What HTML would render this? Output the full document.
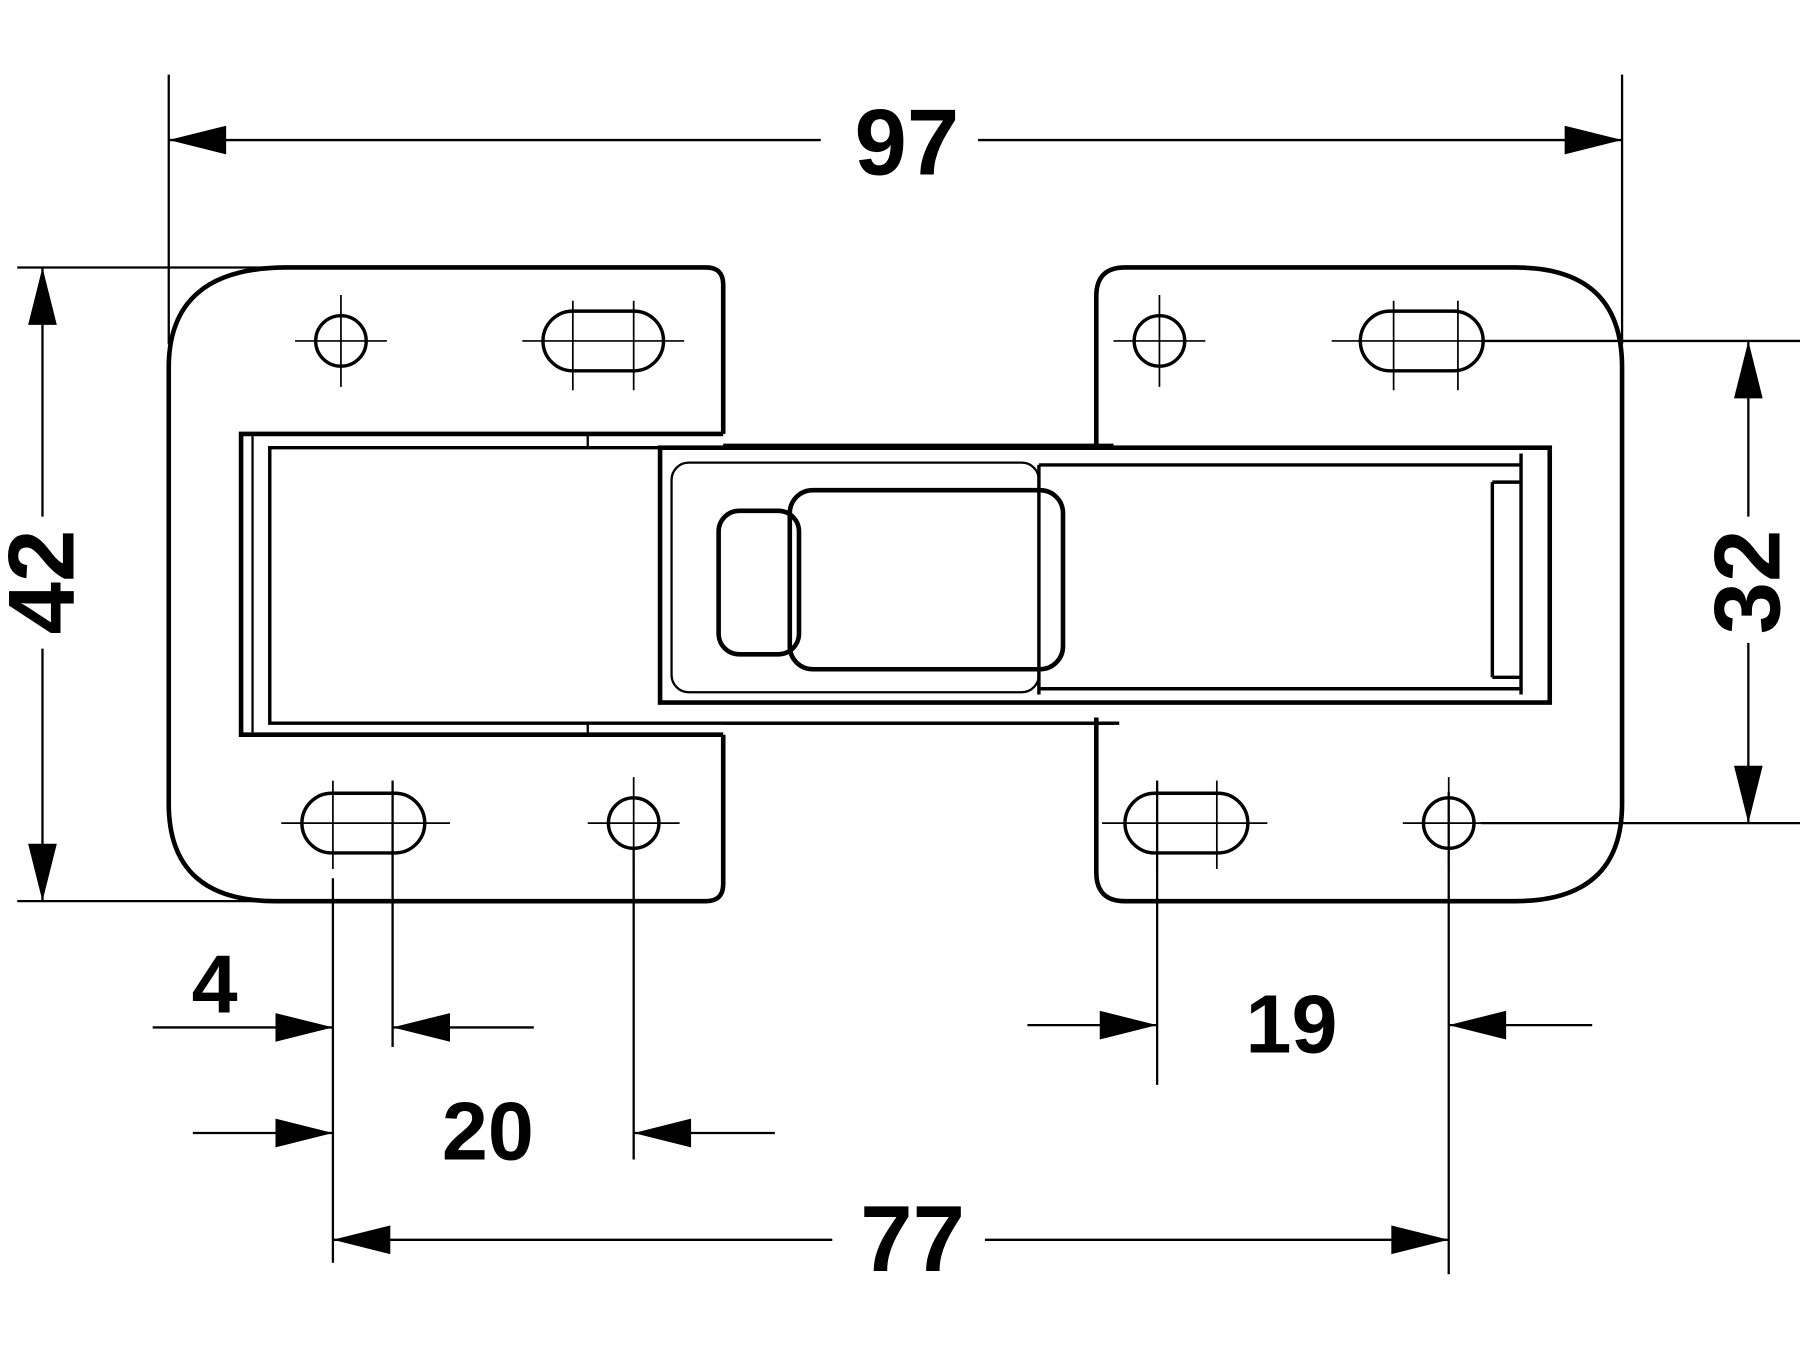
<!DOCTYPE html>
<html><head><meta charset="utf-8"><style>
html,body{margin:0;padding:0;background:#fff;}
svg{display:block;}
text{font-family:"Liberation Sans",sans-serif;font-weight:bold;fill:#000;}
</style></head><body>
<svg width="1800" height="1350" viewBox="0 0 1568 1176" xmlns="http://www.w3.org/2000/svg">
<defs>
<marker id="a" viewBox="0 0 20 10" refX="20" refY="5" markerWidth="70" markerHeight="25" markerUnits="userSpaceOnUse" orient="auto"><path d="M0,0 L20,5 L0,10 Z" fill="#000"/></marker>
</defs>
<g stroke="#000" fill="none" stroke-width="2">
<line x1="147" y1="65" x2="147" y2="300"/>
<line x1="1413" y1="65" x2="1413" y2="300"/>
<line x1="15" y1="233" x2="240" y2="233"/>
<line x1="15" y1="785" x2="300" y2="785"/>
<line x1="1290" y1="297" x2="1568" y2="297"/>
<line x1="1290" y1="717" x2="1568" y2="717"/>
<line x1="290" y1="765" x2="290" y2="1100"/>
<line x1="342" y1="680" x2="342" y2="912"/>
<line x1="552" y1="740" x2="552" y2="1010"/>
<line x1="1008" y1="680" x2="1008" y2="945"/>
<line x1="1262" y1="690" x2="1262" y2="1110"/>
<line x1="715" y1="122" x2="147" y2="122" marker-end="url(#a)"/>
<line x1="852" y1="122" x2="1413" y2="122" marker-end="url(#a)"/>
<line x1="37" y1="450" x2="37" y2="233" marker-end="url(#a)"/>
<line x1="37" y1="565" x2="37" y2="785" marker-end="url(#a)"/>
<line x1="1523" y1="450" x2="1523" y2="297" marker-end="url(#a)"/>
<line x1="1523" y1="560" x2="1523" y2="717" marker-end="url(#a)"/>
<line x1="133" y1="895" x2="290" y2="895" marker-end="url(#a)"/>
<line x1="465" y1="895" x2="342" y2="895" marker-end="url(#a)"/>
<line x1="168" y1="987" x2="290" y2="987" marker-end="url(#a)"/>
<line x1="675" y1="987" x2="552" y2="987" marker-end="url(#a)"/>
<line x1="895" y1="893" x2="1008" y2="893" marker-end="url(#a)"/>
<line x1="1387" y1="893" x2="1262" y2="893" marker-end="url(#a)"/>
<line x1="725" y1="1080" x2="290" y2="1080" marker-end="url(#a)"/>
<line x1="858" y1="1080" x2="1262" y2="1080" marker-end="url(#a)"/>
</g>
<g stroke="#000" fill="none" stroke-width="4">
<path d="M630,378 L630,248 Q630,233 615,233 L250,233 Q147,233 147,320 L147,700 Q147,785 240,785 L615,785 Q630,785 630,770 L630,640"/>
<path d="M955,388 L955,258 Q955,233 980,233 L1320,233 Q1413,233 1413,320 L1413,700 Q1413,785 1320,785 L980,785 Q955,785 955,760 L955,625"/>
<path d="M630,378 L210,378 L210,640 L630,640"/>
<path d="M630,388 L970,388 M630,630 L970,630" stroke-width="3"/>
<path d="M975,390 L235,390 L235,630 L975,630" stroke-width="3"/>
<line x1="220" y1="380" x2="220" y2="638" stroke-width="2"/>
<path d="M512,378 V390 M512,630 V640" stroke-width="2"/>
<rect x="575" y="390" width="775" height="222"/>
<line x1="905" y1="405" x2="1325" y2="405" stroke-width="3"/>
<line x1="905" y1="600" x2="1325" y2="600" stroke-width="3"/>
<path d="M1325,395 L1325,605 M1300,420 L1300,590 M1300,420 L1325,420 M1300,590 L1325,590" stroke-width="3"/>
<rect x="585" y="403" width="320" height="200" rx="15" stroke-width="2"/>
<rect x="688" y="427" width="238" height="156" rx="20"/>
<rect x="626" y="445" width="70" height="125" rx="18"/>
<line x1="905" y1="405" x2="905" y2="605" stroke-width="3"/>
</g>
<g stroke="#000" fill="none" stroke-width="3">
<circle cx="297" cy="297" r="22"/>
<circle cx="1010" cy="297" r="22"/>
<circle cx="552" cy="717" r="22"/>
<circle cx="1262" cy="717" r="22"/>
<rect x="473" y="271" width="105" height="52" rx="26"/>
<rect x="1185" y="271" width="107" height="52" rx="26"/>
<rect x="263" y="691" width="107" height="52" rx="26"/>
<rect x="980" y="691" width="107" height="52" rx="26"/>
</g>
<g stroke="#000" stroke-width="1.5">
<path d="M257,297 H337 M297,257 V337 M970,297 H1050 M1010,257 V337 M512,717 H592 M552,677 V757 M1222,717 H1302 M1262,677 V757"/>
<path d="M455,297 H596 M499,262 V340 M552,262 V340 M1160,297 H1306 M1214,262 V340 M1270,262 V340 M245,717 H392 M290,680 V757 M342,680 V757 M960,717 H1104 M1008,680 V757 M1060,680 V757"/>
</g>
<text x="790" y="152" font-size="82" text-anchor="middle">97</text>
<text transform="translate(64,507) rotate(-90)" font-size="82" text-anchor="middle">42</text>
<text transform="translate(1550,507) rotate(-90)" font-size="82" text-anchor="middle">32</text>
<text x="187" y="882" font-size="72" text-anchor="middle">4</text>
<text x="425" y="1010" font-size="72" text-anchor="middle">20</text>
<text x="1125" y="917" font-size="72" text-anchor="middle">19</text>
<text x="795" y="1107" font-size="82" text-anchor="middle">77</text>
</svg>
</body></html>
